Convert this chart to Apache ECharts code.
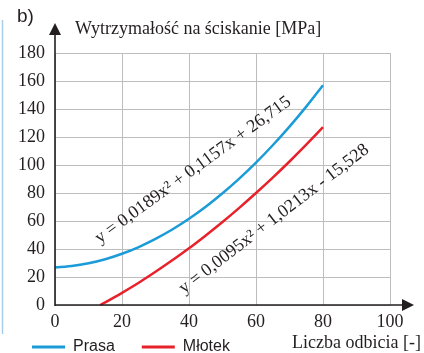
<!DOCTYPE html>
<html><head><meta charset="utf-8">
<script src="https://cdn.jsdelivr.net/npm/echarts@6/dist/echarts.min.js"></script>
<style>html,body{margin:0;padding:0;background:#fff}#c{width:424px;height:353px}</style>
</head><body><div id="c"></div>
<script>
// ---- data ----
const xMin = 0, xMax = 100, xStep = 20;
const yMin = 0, yMax = 180, yStep = 20;
const seriesNames = ['Prasa', 'Młotek'];
const prasaX = [0, 5, 10, 15, 20, 25, 30, 35, 40, 45, 50, 55, 60, 65, 70, 75, 80];
const prasaY = [26.7, 27.8, 29.8, 32.7, 36.6, 41.4, 47.2, 53.9, 61.6, 70.2, 79.8, 90.3, 101.7, 114.1, 127.4, 141.7, 156.9];
const mlotekX = [13.5, 15, 20, 25, 30, 35, 40, 45, 50, 55, 60, 65, 70, 75, 80];
const mlotekY = [0, 1.9, 8.7, 15.9, 23.7, 31.9, 40.5, 49.7, 59.3, 69.4, 80.0, 91.0, 102.5, 114.5, 127.0];
const eqPrasa = 'y = 0,0189x² + 0,1157x + 26,715';
const eqMlotek = 'y = 0,0095x² + 1,0213x - 15,528';
const yTitle = 'Wytrzymałość na ściskanie [MPa]';
const xTitle = 'Liczba odbicia [-]';
const panelLabel = 'b)';

const TXT = '#231f20';
const SERIF = '"Liberation Serif", "DejaVu Serif", serif';
const SANS = '"Liberation Sans", Arial, sans-serif';
const BLUE = '#1b9bd7';
const RED = '#e8222b';

const chart = echarts.init(document.getElementById('c'), null, {renderer: 'canvas'});
const zip = (xs, ys) => xs.map((x, i) => [x, ys[i]]);

const option = {
  animation: false,
  backgroundColor: '#fff',
  grid: {left: 55, right: 34, top: 53, bottom: 48, containLabel: false},
  legend: {
    data: seriesNames, left: 27, top: 334, icon: 'rect', itemWidth: 33, itemHeight: 3,
    itemGap: 27,
    textStyle: {fontFamily: SANS, fontSize: 16, color: TXT, padding: [0, 0, 0, 3]}
  },
  xAxis: {
    type: 'value', min: xMin, max: xMax, interval: xStep,
    axisLine: {show: false}, axisTick: {show: false},
    axisLabel: {fontFamily: SERIF, fontSize: 18, color: TXT, margin: 8},
    splitLine: {show: true, lineStyle: {color: '#bdbdbd', width: 1}}
  },
  yAxis: {
    type: 'value', min: yMin, max: yMax, interval: yStep,
    axisLine: {show: false}, axisTick: {show: false},
    axisLabel: {fontFamily: SERIF, fontSize: 18, color: TXT, margin: 10},
    splitLine: {show: true, lineStyle: {color: '#bdbdbd', width: 1}}
  },
  series: [
    {name: seriesNames[0], type: 'line', data: zip(prasaX, prasaY), smooth: 0.3, showSymbol: false,
     lineStyle: {color: BLUE, width: 2.5}, itemStyle: {color: BLUE}},
    {name: seriesNames[1], type: 'line', data: zip(mlotekX, mlotekY), smooth: 0.3, showSymbol: false,
     lineStyle: {color: RED, width: 2.5}, itemStyle: {color: RED}}
  ]
};
chart.setOption(option);

// axes with arrows, positioned from the library's own scales
const o = chart.convertToPixel({gridIndex: 0}, [0, 0]);
const xe = chart.convertToPixel({gridIndex: 0}, [xMax, 0]);
const ye = chart.convertToPixel({gridIndex: 0}, [0, yMax]);
const ax = o[0], ay = o[1];
const xEnd = xe[0] + 24, yEnd = ye[1] - 30;
chart.setOption({
  graphic: [
    {type: 'line', shape: {x1: ax, y1: ay, x2: xEnd - 10, y2: ay}, style: {stroke: TXT, lineWidth: 1.6}, z: 10},
    {type: 'line', shape: {x1: ax, y1: ay + 1, x2: ax, y2: yEnd + 10}, style: {stroke: TXT, lineWidth: 1.6}, z: 10},
    {type: 'polygon', shape: {points: [[xEnd - 12, ay - 6], [xEnd, ay], [xEnd - 12, ay + 6]]}, style: {fill: TXT}, z: 10},
    {type: 'polygon', shape: {points: [[ax - 6, yEnd + 12], [ax, yEnd], [ax + 6, yEnd + 12]]}, style: {fill: TXT}, z: 10},
    {type: 'text', x: 17, y: 7, style: {text: panelLabel, font: '19px ' + SANS, fill: TXT}},
    {type: 'text', x: 75, y: 20, style: {text: yTitle, font: '18px ' + SERIF, fill: TXT}},
    {type: 'text', x: 292, y: 334, style: {text: xTitle, font: '18px ' + SERIF, fill: TXT}},
    {type: 'text', x: 193, y: 170, rotation: 36 * Math.PI / 180,
     style: {text: eqPrasa, font: '18px ' + SERIF, fill: TXT, align: 'center', verticalAlign: 'middle'}, z: 11},
    {type: 'text', x: 274, y: 219, rotation: 37.5 * Math.PI / 180,
     style: {text: eqMlotek, font: '18px ' + SERIF, fill: TXT, align: 'center', verticalAlign: 'middle'}, z: 11},
    {type: 'line', shape: {x1: 2.5, y1: 20, x2: 2.5, y2: 334}, style: {stroke: '#a9cde9', lineWidth: 1.5}}
  ]
});
</script></body></html>
